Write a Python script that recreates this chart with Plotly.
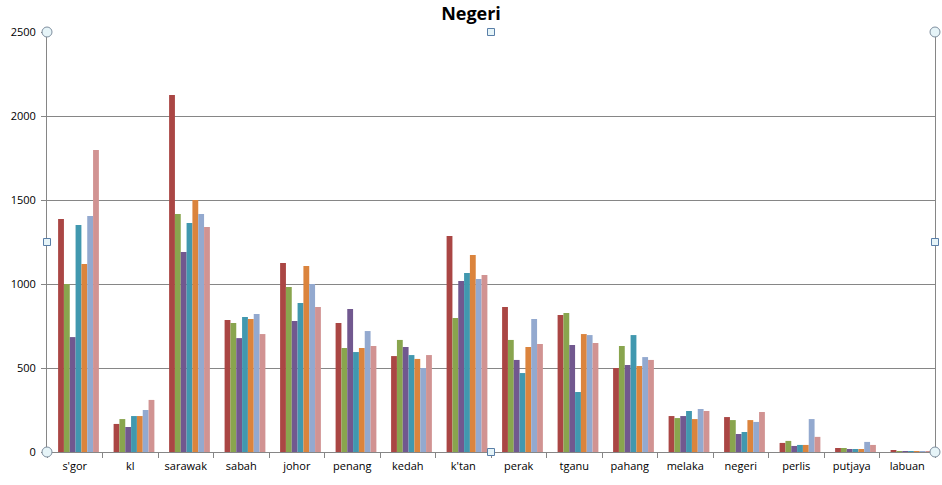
import plotly.graph_objects as go

categories = ["s'gor", "kl", "sarawak", "sabah", "johor", "penang", "kedah", "k'tan",
              "perak", "tganu", "pahang", "melaka", "negeri", "perlis", "putjaya", "labuan"]

s1 = [1387, 167, 2125, 786, 1125, 768, 571, 1286, 863, 815, 500, 214, 208, 54, 24, 6]
s2 = [1000, 196, 1417, 768, 982, 619, 667, 798, 667, 827, 631, 202, 190, 66, 24, 2]
s3 = [684, 149, 1190, 678, 780, 851, 625, 1018, 548, 637, 518, 214, 107, 36, 18, 5]
s4 = [1351, 214, 1363, 804, 887, 595, 577, 1065, 470, 357, 696, 244, 119, 42, 18, 5]
s5 = [1119, 214, 1500, 792, 1107, 619, 554, 1173, 625, 702, 512, 196, 190, 42, 18, 5]
s6 = [1405, 250, 1417, 821, 1000, 720, 500, 1030, 792, 696, 565, 256, 179, 196, 60, 2]
s7 = [1798, 310, 1339, 702, 863, 631, 577, 1054, 643, 649, 548, 244, 238, 90, 42, 5]

series = [s1, s2, s3, s4, s5, s6, s7]
colors = ["#AA4644", "#89A54E", "#71588F", "#4198AF", "#DB843D", "#93A9CF", "#D19392"]

bar_w = 0.105
start = -0.30

fig = go.Figure()
for i, (vals, col) in enumerate(zip(series, colors)):
    fig.add_trace(go.Bar(x=categories, y=vals, marker=dict(color=col, line=dict(width=0)),
                         width=bar_w, offset=start + i * bar_w,
                         name=f"Series{i+1}"))

font = "Open Sans, Liberation Sans, sans-serif"
fig.update_layout(
    width=942, height=485,
    margin=dict(l=47, r=7, t=32, b=33),
    paper_bgcolor="white", plot_bgcolor="white",
    barmode="overlay",
    showlegend=False,
    title=dict(text="<b>Negeri</b>", x=0.5, xanchor="center", y=0.985, yanchor="top",
               font=dict(family=font, size=18, color="black")),
    font=dict(family=font, size=11, color="black"),
)
fig.update_yaxes(range=[0, 2500], dtick=500, showgrid=True, gridcolor="#868686", gridwidth=1,
                 showline=True, linecolor="#868686", linewidth=1, mirror=True,
                 ticks="outside", ticklen=5, tickcolor="#868686", zeroline=False,
                 tickfont=dict(size=11), ticklabelstandoff=3)
fig.update_xaxes(showline=True, linecolor="#868686", linewidth=1,
                 ticks="outside", ticklen=5, tickcolor="#868686", tickson="boundaries",
                 tickfont=dict(size=11), showgrid=False, ticklabelstandoff=4,
                 range=[-0.5, 15.5])

# selection handles
for (x, y) in [(0, 0), (1, 0), (0, 1), (1, 1)]:
    fig.add_shape(type="circle", xref="paper", yref="paper", xanchor=x, yanchor=y,
                  x0=-5, x1=5, y0=-5, y1=5, xsizemode="pixel", ysizemode="pixel",
                  line=dict(color="#7F8F9F", width=1), fillcolor="#E6F4F8")
for (x, y) in [(0.5, 0), (0.5, 1), (0, 0.5), (1, 0.5)]:
    fig.add_shape(type="rect", xref="paper", yref="paper", xanchor=x, yanchor=y,
                  x0=-3.5, x1=3.5, y0=-3.5, y1=3.5, xsizemode="pixel", ysizemode="pixel",
                  line=dict(color="#5A7FA8", width=1), fillcolor="#E6F4F8")

fig.write_html("out.html")
